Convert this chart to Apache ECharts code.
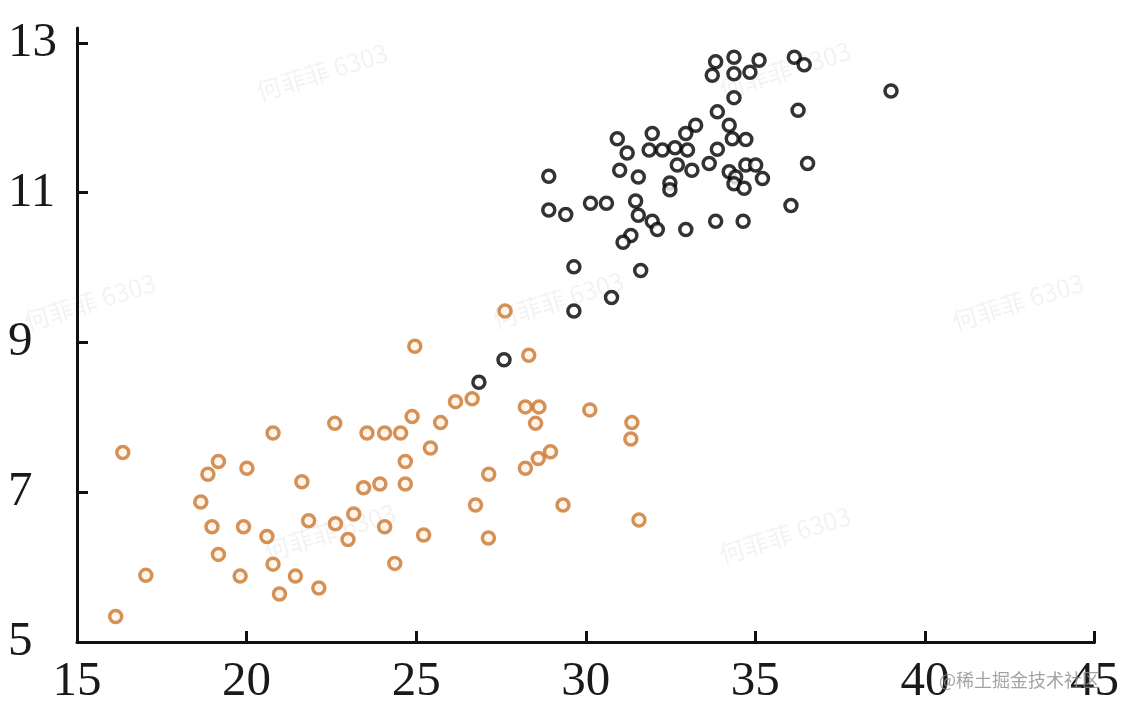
<!DOCTYPE html>
<html>
<head>
<meta charset="utf-8">
<title>scatter</title>
<script src="https://cdn.jsdelivr.net/npm/echarts/dist/echarts.min.js"></script>
<style>
  html, body { margin: 0; padding: 0; background: #fff; }
  #chart { width: 1122px; height: 708px; }
</style>
</head>
<body>
<div id="chart"></div>
<script>
// black group (upper right cluster)
const darkPoints = [
  [33.83, 12.75], [34.37, 12.81], [35.11, 12.77], [36.15, 12.81], [36.44, 12.71],
  [33.73, 12.57], [34.37, 12.59], [34.84, 12.61], [39.0, 12.36], [34.37, 12.27],
  [36.26, 12.10], [33.88, 12.08], [34.23, 11.90], [33.24, 11.90], [30.93, 11.72],
  [31.96, 11.79], [32.95, 11.79], [34.32, 11.72], [34.72, 11.71], [31.22, 11.53],
  [31.87, 11.57], [32.26, 11.57], [32.63, 11.60], [33.0, 11.57], [33.88, 11.58],
  [33.64, 11.39], [32.70, 11.37], [33.13, 11.30], [36.54, 11.39], [31.0, 11.30],
  [31.55, 11.21], [28.91, 11.22], [34.23, 11.28], [34.72, 11.37], [35.01, 11.37],
  [34.42, 11.21], [35.21, 11.19], [34.37, 11.12], [34.67, 11.06], [32.48, 11.13],
  [32.48, 11.04], [36.05, 10.83], [28.91, 10.77], [29.41, 10.71], [30.14, 10.86],
  [30.61, 10.86], [31.47, 10.89], [31.55, 10.70], [31.96, 10.62], [32.11, 10.51],
  [32.95, 10.51], [33.83, 10.62], [34.64, 10.62], [31.33, 10.43], [31.10, 10.34],
  [29.65, 10.01], [31.62, 9.96], [30.76, 9.60], [29.65, 9.42], [27.59, 8.77],
  [26.85, 8.47]
];

// orange group (lower left cluster)
const lightPoints = [
  [16.14, 5.34], [16.35, 7.53], [17.03, 5.89], [18.65, 6.87], [18.86, 7.24],
  [19.17, 7.41], [18.98, 6.54], [19.17, 6.17], [19.81, 5.88], [19.91, 6.54],
  [20.01, 7.32], [20.60, 6.41], [20.78, 7.79], [20.78, 6.04], [20.97, 5.64],
  [21.44, 5.88], [21.63, 7.14], [21.83, 6.62], [22.13, 5.72], [22.60, 7.92],
  [22.62, 6.58], [22.99, 6.37], [23.16, 6.71], [23.45, 7.06], [23.55, 7.79],
  [23.93, 7.11], [24.07, 7.79], [24.07, 6.54], [24.37, 6.05], [24.54, 7.79],
  [24.68, 7.41], [24.68, 7.11], [24.88, 8.01], [24.96, 8.95], [25.22, 6.43],
  [25.42, 7.59], [25.72, 7.93], [26.16, 8.21], [26.65, 8.25], [26.75, 6.83],
  [27.14, 7.24], [27.13, 6.39], [27.62, 9.42], [28.32, 8.83], [28.22, 8.14],
  [28.62, 8.14], [28.52, 7.92], [28.22, 7.32], [28.60, 7.45], [28.96, 7.54],
  [29.33, 6.83], [30.12, 8.10], [31.36, 7.93], [31.33, 7.71], [31.57, 6.63]
];

const yTicks = [5, 7, 9, 11, 13];
const watermark = '何菲菲 6303';
const siteMark = '@稀土掘金技术社区';

const chart = echarts.init(document.getElementById('chart'));

const wmSpots = [[322, 72], [785, 70], [90, 302], [558, 300], [1018, 302], [330, 532], [785, 535]];
const graphics = wmSpots.map(p => ({
  type: 'text',
  x: p[0],
  y: p[1],
  rotation: 0.3,
  z: 0,
  silent: true,
  style: {
    text: watermark,
    font: '25px "Noto Sans CJK SC", sans-serif',
    fill: 'rgba(0,0,0,0.05)',
    align: 'center',
    verticalAlign: 'middle'
  }
}));
graphics.push({
  type: 'text',
  right: 22,
  bottom: 19,
  z: 100,
  silent: true,
  style: {
    text: siteMark,
    font: '18px "Noto Sans CJK SC", sans-serif',
    fill: 'rgba(140,140,140,0.8)'
  }
});

const axisFont = '"Liberation Serif", "DejaVu Serif", serif';

chart.setOption({
  animation: false,
  backgroundColor: '#fff',
  grid: { left: 77, right: 27, top: 28, bottom: 66 },
  xAxis: {
    type: 'value',
    min: 15,
    max: 45,
    interval: 5,
    splitLine: { show: false },
    axisLine: { show: true, lineStyle: { color: '#111', width: 3 } },
    axisTick: { show: true, inside: true, length: 11, lineStyle: { color: '#111', width: 3 } },
    axisLabel: { color: '#1a1a1a', fontFamily: axisFont, fontSize: 49, margin: 16 }
  },
  yAxis: {
    type: 'value',
    min: 5,
    max: 13.2,
    splitLine: { show: false },
    axisLine: { show: true, lineStyle: { color: '#111', width: 3 } },
    axisTick: {
      show: true, inside: true, length: 11,
      customValues: yTicks,
      lineStyle: { color: '#111', width: 3 }
    },
    axisLabel: {
      customValues: yTicks,
      color: '#1a1a1a', fontFamily: axisFont, fontSize: 49,
      align: 'left', margin: 69
    }
  },
  graphic: graphics,
  series: [
    {
      name: 'dark',
      type: 'scatter',
      symbol: 'circle',
      symbolSize: 12,
      z: 3,
      itemStyle: { color: '#fff', borderColor: '#000', borderWidth: 3.5 },
      data: darkPoints
    },
    {
      name: 'light',
      type: 'scatter',
      symbol: 'circle',
      symbolSize: 12,
      z: 2,
      itemStyle: { color: '#fff2e6', borderColor: '#c9772f', borderWidth: 3.5 },
      data: lightPoints
    }
  ]
});
</script>
</body>
</html>
